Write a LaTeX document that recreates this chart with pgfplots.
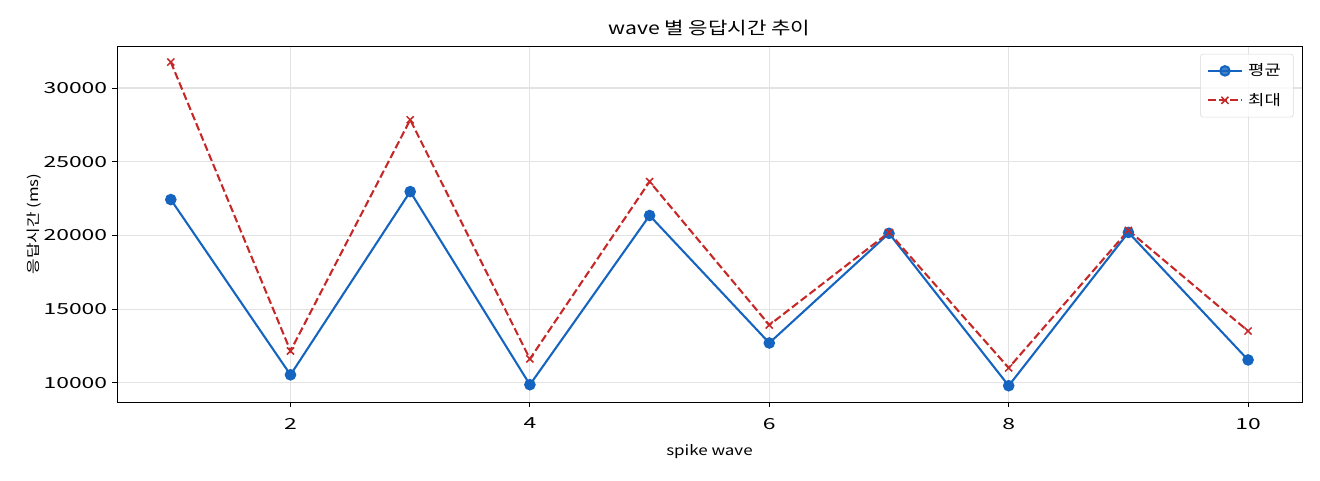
\documentclass[border=0pt]{standalone}
\usepackage{fontspec}
\setmainfont[FakeStretch=1.22]{Noto Sans CJK KR}
\newfontfamily\tickfont[FakeStretch=1.5]{Noto Sans CJK KR}
\usepackage{pgfplots}
\pgfplotsset{compat=1.18}
\definecolor{avgblue}{HTML}{1565C0}
\definecolor{maxred}{HTML}{C62828}
\begin{document}
\begin{tikzpicture}
\begin{axis}[
  scale only axis,
  width=853.2pt, height=256.3pt,
  xmin=0.55, xmax=10.45,
  ymin=8700, ymax=32850,
  xtick={2,4,6,8,10},
  ytick={10000,15000,20000,25000,30000},
  scaled y ticks=false,
  /pgf/number format/assume math mode=true,
  yticklabel style={/pgf/number format/.cd,fixed,1000 sep={}},
  tick label style={font=\tickfont\fontsize{11}{13}\selectfont},
  xticklabel style={yshift=-4.5pt},
  tick align=outside,
  major tick length=3.5pt,
  tick style={black, line width=0.6pt},
  axis line style={line width=0.6pt},
  xtick pos=bottom, ytick pos=left,
  grid=major,
  major grid style={black!11, line width=0.8pt},
  title={wave 별 응답시간 추이},
  title style={font=\fontsize{12.5}{14}\selectfont, yshift=-2pt},
  xlabel={spike wave},
  ylabel={응답시간 (ms)},
  xlabel style={yshift=-4pt},
  ylabel style={yshift=-5pt},
  label style={font=\fontsize{10}{12}\selectfont},
  legend image code/.code={%
    \draw[mark repeat=2,mark phase=2] plot coordinates {(0cm,0cm) (0.42cm,0cm) (0.84cm,0cm)};},
  legend style={font=\fontsize{10.5}{12}\selectfont, draw=black!15, rounded corners=2pt,
    fill=white, fill opacity=0.8, text opacity=1, at={(0.993,0.978)}, anchor=north east,
    row sep=7pt, inner sep=5pt, nodes={inner xsep=4pt}},
  legend cell align=left,
]
\addplot[avgblue, line width=1.5pt, mark=*, mark size=3.4pt, mark options={solid}]
coordinates {
(1,22430) (2,10540) (3,22970) (4,9870) (5,21350)
(6,12700) (7,20140) (8,9800) (9,20200) (10,11550)
};
\addlegendentry{평균}
\addplot[maxred, line width=1.5pt, dash pattern=on 5.55pt off 2.4pt, mark=x, mark size=3.6pt, mark options={solid, line width=1.1pt}]
coordinates {
(1,31760) (2,12160) (3,27840) (4,11620) (5,23650)
(6,13920) (7,20200) (8,11010) (9,20340) (10,13510)
};
\addlegendentry{최대}
\end{axis}
\path (current axis.south west) ++(-84.2pt,-56.2pt) coordinate (bl);
\path (current axis.north east) ++(13pt,33.1pt) coordinate (tr);
\useasboundingbox (bl) rectangle (tr);
\end{tikzpicture}
\end{document}
